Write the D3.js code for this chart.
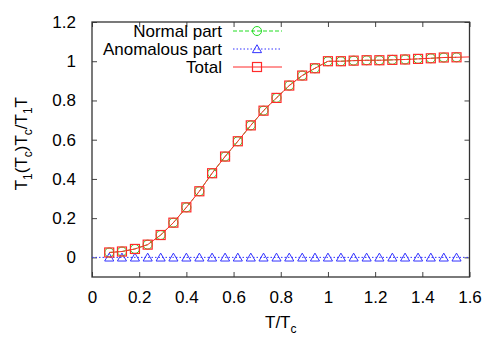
<!DOCTYPE html>
<html>
<head>
<meta charset="utf-8">
<script src="https://cdn.jsdelivr.net/npm/d3@7"></script>
<style>
  body { margin: 0; background: #fff; overflow: hidden; }
  svg { display: block; }
</style>
</head>
<body>
<div id="svg-container"></div>
<script>
// data
const tValues = [0.073, 0.127, 0.182, 0.236, 0.291, 0.345, 0.400, 0.455, 0.509, 0.564,
  0.618, 0.673, 0.727, 0.782, 0.836, 0.891, 0.945, 1.000, 1.055, 1.109,
  1.164, 1.218, 1.273, 1.327, 1.382, 1.436, 1.491, 1.545]
const normalValues = [0.025, 0.030, 0.043, 0.065, 0.114, 0.177, 0.255, 0.337, 0.429, 0.514,
  0.592, 0.673, 0.748, 0.813, 0.876, 0.927, 0.964, 1.000, 1.000, 1.003,
  1.005, 1.005, 1.007, 1.009, 1.012, 1.015, 1.019, 1.020]
const anomalousValues = [0, 0, 0, 0, 0, 0, 0, 0, 0, 0, 0, 0, 0, 0, 0, 0, 0, 0, 0, 0,
  0, 0, 0, 0, 0, 0, 0, 0]
const totalValues = [0.025, 0.030, 0.043, 0.065, 0.114, 0.177, 0.255, 0.337, 0.429, 0.514,
  0.592, 0.673, 0.748, 0.813, 0.876, 0.927, 0.964, 1.000, 1.000, 1.003,
  1.005, 1.005, 1.007, 1.009, 1.012, 1.015, 1.019, 1.020]
// lines run on to the frame edges
const anomalousLineStart = [0, 0]
const anomalousLineEnd = [1.6, 0]
const totalLineEnd = [1.6, 1.022]

const xTicks = [0, 0.2, 0.4, 0.6, 0.8, 1, 1.2, 1.4, 1.6]
const yTicks = [0, 0.2, 0.4, 0.6, 0.8, 1, 1.2]
const seriesNames = ['Normal part', 'Anomalous part', 'Total']

const width = 500
const height = 350
const margin = { top: 22, right: 30.5, bottom: 73, left: 92 }
const innerWidth = width - margin.left - margin.right
const innerHeight = height - margin.top - margin.bottom
const fontSize = 17
const fontFamily = '"Liberation Sans", Arial, sans-serif'

const green = '#22dd22'
const blue = '#3333ff'
const red = '#ff2a2a'

const svg = d3.select('#svg-container').append('svg')
  .attr('width', width).attr('height', height)
  .attr('font-family', fontFamily).attr('font-size', fontSize)

const g = svg.append('g')
  .attr('transform', `translate(${margin.left}, ${margin.top})`)

const xScale = d3.scaleLinear().domain([0, 1.6]).range([0, innerWidth])
const yScale = d3.scaleLinear().domain([-0.1, 1.2]).range([innerHeight, 0])

const fmt = d => d3.format('~g')(d)

//assen, ticks naar binnen en gespiegeld
const tickLen = 5
const axes = [
  g.append('g').attr('transform', `translate(0, ${innerHeight})`)
    .call(d3.axisBottom(xScale).tickValues(xTicks).tickFormat(fmt).tickSizeInner(-tickLen).tickSizeOuter(0).tickPadding(14)),
  g.append('g').attr('class', 'mirror')
    .call(d3.axisTop(xScale).tickValues(xTicks).tickSizeInner(-tickLen).tickSizeOuter(0)),
  g.append('g')
    .call(d3.axisLeft(yScale).tickValues(yTicks).tickFormat(fmt).tickSizeInner(-tickLen).tickSizeOuter(0).tickPadding(16)),
  g.append('g').attr('class', 'mirror').attr('transform', `translate(${innerWidth}, 0)`)
    .call(d3.axisRight(yScale).tickValues(yTicks).tickSizeInner(-tickLen).tickSizeOuter(0))
]
axes.forEach(a => a.attr('font-family', fontFamily).attr('font-size', fontSize))

//gespiegelde assen hebben geen labels
g.selectAll('.mirror .tick text').remove()
g.selectAll('.domain').remove()
g.selectAll('.tick line').attr('stroke', '#444')
g.selectAll('.tick text').attr('fill', '#000')

//frame
g.append('rect').attr('width', innerWidth).attr('height', innerHeight)
  .attr('fill', 'none').attr('stroke', '#333').attr('stroke-width', 1.3)

g.append('clipPath').attr('id', 'clip').append('rect')
  .attr('width', innerWidth).attr('height', innerHeight)
const plot = g.append('g').attr('clip-path', 'url(#clip)')

const line = d3.line().x(d => xScale(d[0])).y(d => yScale(d[1]))

const normalPts = tValues.map((t, i) => [t, normalValues[i]])
const anomalousPts = tValues.map((t, i) => [t, anomalousValues[i]])
const totalPts = tValues.map((t, i) => [t, totalValues[i]])

plot.append('path').datum([anomalousLineStart, ...anomalousPts, anomalousLineEnd])
  .attr('d', line).attr('fill', 'none').attr('stroke', blue).attr('stroke-width', 1)
  .attr('stroke-dasharray', '1.5,2')
plot.append('path').datum(normalPts)
  .attr('d', line).attr('fill', 'none').attr('stroke', green).attr('stroke-width', 1)
  .attr('stroke-dasharray', '4,2')
plot.append('path').datum([...totalPts, totalLineEnd])
  .attr('d', line).attr('fill', 'none').attr('stroke', red).attr('stroke-width', 1)

//markers
const tri = d3.symbol().type(d3.symbolTriangle).size(36)
function drawCircle(sel, x, y) {
  sel.append('circle').attr('cx', x).attr('cy', y).attr('r', 4.5)
    .attr('fill', 'none').attr('stroke', green).attr('stroke-width', 1)
}
function drawTriangle(sel, x, y) {
  sel.append('path').attr('d', tri).attr('transform', `translate(${x}, ${y + 1})`)
    .attr('fill', 'none').attr('stroke', blue).attr('stroke-width', 1)
}
function drawSquare(sel, x, y) {
  sel.append('rect').attr('x', x - 4.5).attr('y', y - 4.5).attr('width', 9).attr('height', 9)
    .attr('fill', 'none').attr('stroke', red).attr('stroke-width', 1.2)
}
normalPts.forEach(d => drawCircle(plot, xScale(d[0]), yScale(d[1])))
anomalousPts.forEach(d => drawTriangle(plot, xScale(d[0]), yScale(d[1])))
totalPts.forEach(d => drawSquare(plot, xScale(d[0]), yScale(d[1])))

//legenda
const legend = g.append('g')
const legendRows = [
  { color: green, dash: '4,2', mark: drawCircle },
  { color: blue, dash: '1.5,2', mark: drawTriangle },
  { color: red, dash: null, mark: drawSquare }
]
legendRows.forEach((r, i) => {
  const y = 9 + i * 18
  legend.append('text').attr('x', 130).attr('y', y + 6)
    .attr('text-anchor', 'end').text(seriesNames[i])
  legend.append('line').attr('x1', 141).attr('x2', 190).attr('y1', y).attr('y2', y)
    .attr('stroke', r.color).attr('stroke-width', 1).attr('stroke-dasharray', r.dash)
  r.mark(legend, 165, y)
})

//as labels, subscript via baseline-shift
function addSubText(sel, parts) {
  parts.forEach(([s, sub]) => {
    const ts = sel.append('tspan').text(s)
    if (sub) ts.attr('baseline-shift', '-5').attr('font-size', 12)
  })
}
const xLabel = svg.append('text').attr('x', margin.left + xScale(0.8)).attr('y', 328)
  .attr('text-anchor', 'middle')
addSubText(xLabel, [['T/T', 0], ['c', 1]])

const yLabel = svg.append('text')
  .attr('transform', `translate(27, ${margin.top + yScale(0.6) + 4}) rotate(-90)`)
  .attr('text-anchor', 'middle')
addSubText(yLabel, [['T', 0], ['1', 1], ['(T', 0], ['c', 1], [')T', 0], ['c', 1], ['/T', 0], ['1', 1], ['T', 0]])
</script>
</body>
</html>
